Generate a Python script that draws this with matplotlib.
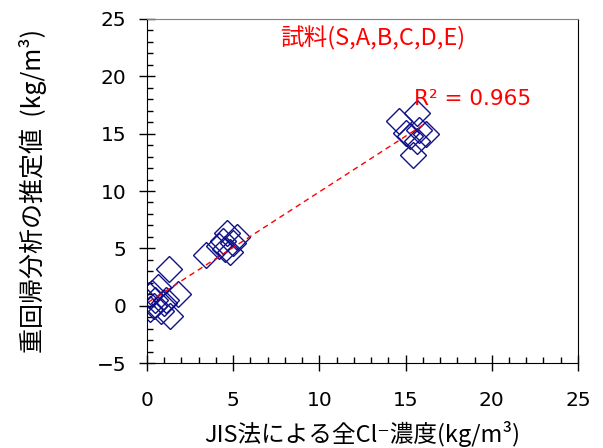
# Scatter of regression estimate vs JIS measured Cl- content
import matplotlib
matplotlib.use('Agg')
import matplotlib.pyplot as plt
from matplotlib.ticker import MultipleLocator
import numpy as np

plt.rcParams['font.family'] = ['Noto Sans CJK JP', 'DejaVu Sans']
jp = ['Noto Sans CJK JP', 'DejaVu Sans']
num = ['DejaVu Sans']

# JIS method total Cl- (kg/m3)
jis_cl = [1.25, 0.65, 1.8, 0.1, 0.45, 1.1, 0.2, 0.8, 1.35, 0.4, 0.3, 1.0,
          3.4, 4.4, 4.65, 5.2, 5.0, 4.5, 4.8, 4.2,
          14.6, 15.65, 15.25, 16.2, 15.65, 15.45, 15.0, 15.8]
# multiple regression estimate (kg/m3)
estimate = [3.2, 1.6, 1.0, 0.9, 0.5, 0.5, -0.3, -0.5, -0.9, 0.0, 1.1, 0.2,
            4.4, 5.6, 6.3, 6.0, 5.5, 4.9, 4.7, 5.2,
            16.1, 16.8, 14.8, 15.0, 14.4, 13.1, 15.1, 15.3]
r2_text = 'R² = 0.965'
sample_text = '試料(S,A,B,C,D,E)'

fig = plt.figure(figsize=(6.03, 4.48), dpi=100)
ax = fig.add_axes([0.2438, 0.1897, 0.7147, 0.7679])

ax.plot(jis_cl, estimate, linestyle='none', marker='D', markersize=13,
        markerfacecolor='none', markeredgecolor='#10108a',
        markeredgewidth=1.0)

# linear fit
b, a = np.polyfit(jis_cl, estimate, 1)
xs = np.array([min(jis_cl), max(jis_cl)])
ax.plot(xs, a + b * xs, color='red', linestyle=(0, (4, 3)), linewidth=1.0)

ax.text(15.5, 18.0, r2_text, color='red', fontsize=15.5, va='center',
        family=num)
ax.text(13.1, 23.3, sample_text, color='red', fontsize=17,
        ha='center', va='center', family=jp)

ax.set_xlim(0, 25)
ax.set_ylim(-5, 25)
ax.xaxis.set_major_locator(MultipleLocator(5))
ax.xaxis.set_minor_locator(MultipleLocator(1))
ax.yaxis.set_major_locator(MultipleLocator(5))
ax.yaxis.set_minor_locator(MultipleLocator(1))
ax.tick_params(which='major', direction='inout', length=12, width=1.0,
               labelsize=14.5, top=False, right=False)
ax.tick_params(which='minor', direction='in', length=4.5, width=1.0,
               top=False, right=False)
ax.tick_params(axis='x', which='major', pad=14)
ax.tick_params(axis='y', which='major', pad=9)
for lab in ax.get_xticklabels() + ax.get_yticklabels():
    lab.set_family(num)
ax.spines['top'].set_color('#808080')

ax.set_xlabel('JIS法による全Cl⁻濃度(kg/m³)', fontsize=17, family=jp)
ax.set_ylabel('重回帰分析の推定値  (kg/m³)', fontsize=18, family=jp)
ax.xaxis.set_label_coords(0.5, -0.17)
ax.yaxis.set_label_coords(-0.232, 0.5)

fig.savefig('out.png', dpi=100)
